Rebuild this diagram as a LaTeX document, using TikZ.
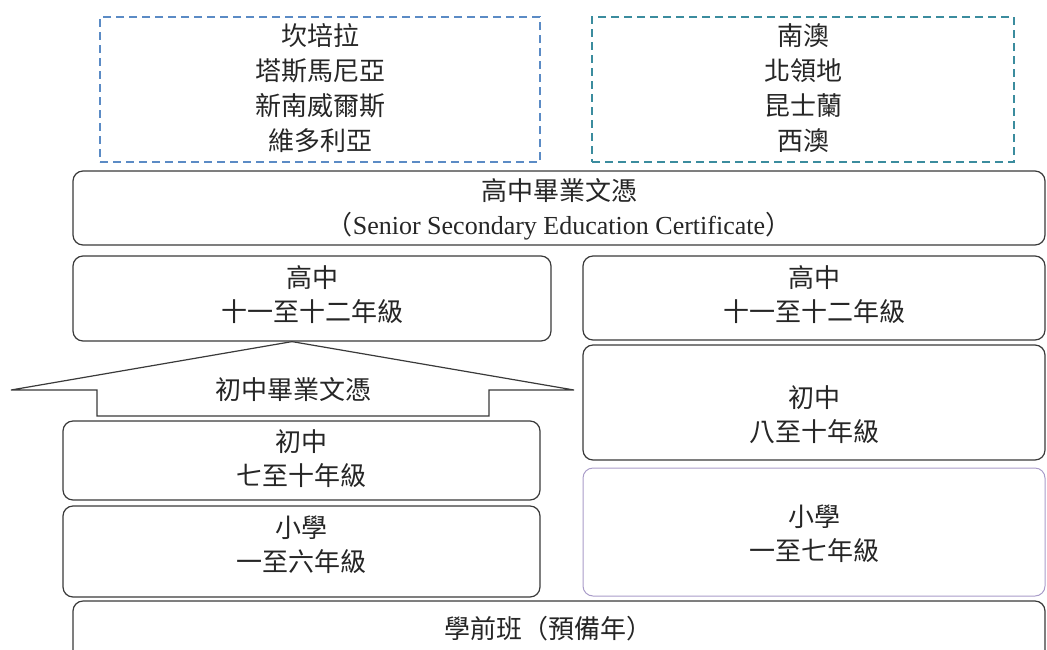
\documentclass[tikz,border=0pt]{standalone}
\usepackage{fontspec}
\setmainfont{Liberation Serif}
\newfontfamily\cjk{Noto Sans CJK TC}
\usetikzlibrary{calc}
\definecolor{boxline}{HTML}{3A3A3A}
\definecolor{dashA}{HTML}{5B8BC5}
\definecolor{dashB}{HTML}{3B8C9E}
\definecolor{lilac}{HTML}{A99CC9}
\tikzset{
  box/.style={draw=boxline, line width=1.2pt, rounded corners=10pt, inner sep=0pt, fill=white},
  dbox/.style={line width=1.5pt, dash pattern=on 8pt off 5pt, inner sep=0pt},
  txt/.style={align=center, inner sep=0pt, text=black!85, font=\cjk\fontsize{26}{34}\selectfont},
  dtxt/.style={txt, font=\cjk\fontsize{26}{35}\selectfont},
}
\begin{document}
\begin{tikzpicture}[x=1pt,y=-1pt]
\useasboundingbox (0,0) rectangle (1047,649);
\begin{scope}
\clip (0,0) rectangle (1047,649);
% dashed state boxes
\node[dbox, draw=dashA, minimum width=440pt, minimum height=145pt] (dA) at (320,89.5) {};
\node[dtxt] (dAt) at (320,88) {坎培拉\\塔斯馬尼亞\\新南威爾斯\\維多利亞};
\node[dbox, draw=dashB, minimum width=422pt, minimum height=145pt] (dB) at (803,89.5) {};
\node[dtxt] (dBt) at (803,88) {南澳\\北領地\\昆士蘭\\西澳};
% senior certificate
\node[box, minimum width=972pt, minimum height=74pt] (cert) at (559,208) {};
\node[txt] (certt) at (559,209) {高中畢業文憑\\{\cjk （}{\rmfamily Senior Secondary Education Certificate}{\cjk ）}};
% senior high boxes
\node[box, minimum width=478pt, minimum height=85pt] (hsL) at (312,298.5) {};
\node[txt] (hsLt) at (312,295) {高中\\十一至十二年級};
\node[box, minimum width=462pt, minimum height=84pt] (hsR) at (814,298) {};
\node[txt] (hsRt) at (814,295) {高中\\十一至十二年級};
% junior certificate arrow
\coordinate (apex) at (hsL.south -| 292,0);
\draw[draw=boxline, line width=1.2pt, fill=white, line join=miter]
  (apex) -- (574,390) -- (489,390) -- (489,416) -- (97,416) -- (97,390) -- (11,390) -- cycle;
\node[txt] (jcert) at (293,390) {初中畢業文憑};
% left lower boxes
\node[box, minimum width=477pt, minimum height=79pt] (jsL) at (301.5,460.5) {};
\node[txt] (jsLt) at (301.5,459) {初中\\七至十年級};
\node[box, minimum width=477pt, minimum height=91pt] (psL) at (301.5,551.5) {};
\node[txt] (psLt) at (301.5,545) {小學\\一至六年級};
% right lower boxes
\node[box, minimum width=462pt, minimum height=115pt] (jsR) at (814,402.5) {};
\node[txt] (jsRt) at (814,414.5) {初中\\八至十年級};
\node[box, draw=lilac, line width=1pt, minimum width=462pt, minimum height=128pt] (psR) at (814,532) {};
\node[txt] (psRt) at (814,533.5) {小學\\一至七年級};
% preschool
\node[box, minimum width=972pt, minimum height=70pt] (pre) at (559,636) {};
\node[txt] (pret) at (548,629) {學前班（預備年）};
\end{scope}
\end{tikzpicture}
\end{document}
